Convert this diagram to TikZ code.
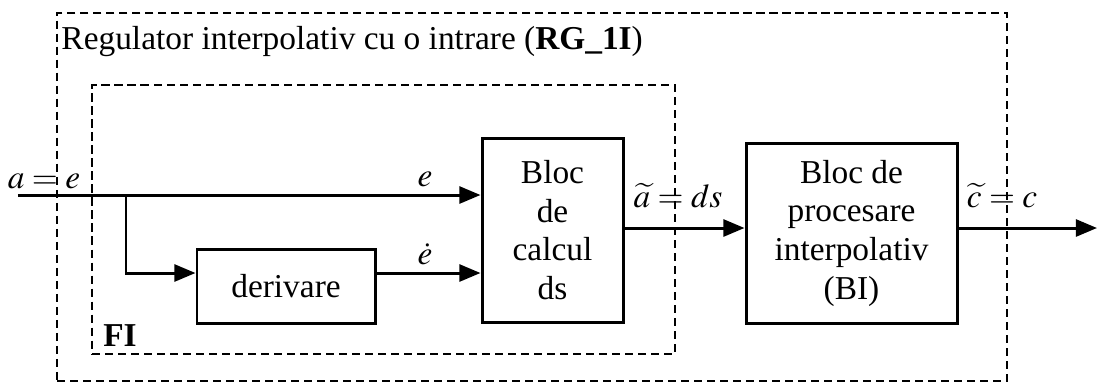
\documentclass[tikz,border=0pt]{standalone}
\usepackage{mathptmx}
\usepackage{fontspec}
\setmainfont{Liberation Serif}
\usetikzlibrary{calc}
\usetikzlibrary{fit}
\usetikzlibrary{positioning}
\usetikzlibrary{arrows.meta}

\begin{document}
\begin{tikzpicture}[->,>={Triangle[length=6pt,width=4.8pt]},line width=0.85pt,
	  font=\fontsize{9.5}{11}\selectfont,
	  block/.style={draw,rectangle,align=center,inner sep=0pt},
	  group/.style={draw,line width=0.7pt,dash pattern=on 2.3pt off 1.4pt,inner sep=0pt},
	  signal/.style={anchor=south,inner sep=0pt}]
	  \useasboundingbox (0,0) rectangle (11.01,3.86);

	  % dashed groups
	  \coordinate (o1) at (0.57,0.05);
	  \coordinate (o2) at (10.07,3.73);
	  \node[group, fit=(o1)(o2)] (rg) {};
	  \coordinate (f1) at (0.92,0.32);
	  \coordinate (f2) at (6.75,3.01);
	  \node[group, fit=(f1)(f2)] (fi) {};

	  \node[anchor=west, inner sep=0pt] (title) at (0.60,3.44) {Regulator interpolativ cu o intrare (\textbf{RG\_1I})};
	  \node[anchor=south west, inner sep=0pt, font=\fontsize{9.5}{11}\selectfont\bfseries] (fiLbl) at ($ (fi.south west) + (0.11,0.07) $) {FI};

	  % blocks
	  \node[block, minimum width=1.41cm, minimum height=1.84cm] (calc) at (5.525,1.56) {Bloc\\de\\calcul\\ds};
	  \node[block, minimum width=1.78cm, minimum height=0.74cm] (deriv) at (2.86,1.00) {derivare};
	  \node[block, minimum width=2.11cm, minimum height=1.80cm] (bi) at (8.515,1.53) {Bloc de\\procesare\\interpolativ\\(BI)};

	  \coordinate (in) at (0.18,1.91);
	  \coordinate (branch) at (1.26,1.91);
	  \coordinate (out) at (10.97,1.58);
	  \coordinate (dIn) at ($ (deriv.west) + (0,0.13) $);
	  \coordinate (dOut) at ($ (deriv.east) + (0,0.13) $);

	  \draw (in) -- (calc.west |- in);
	  \draw (branch) |- (dIn);
	  \draw (dOut) -- (calc.west |- dOut);
	  \draw (calc.east |- out) -- (bi.west |- out);
	  \draw (bi.east |- out) -- (out);

	  % signal labels
	  \node[signal] (aLbl) at (0.44,1.96) {$a = e$};
	  \node[signal] (eLbl) at (4.25,1.98) {$e$};
	  \node[signal] (edLbl) at (4.25,1.20) {$\dot{e}$};
	  \node[signal] (dsLbl) at (6.78,1.77) {$\widetilde{a} = ds$};
	  \node[signal] (cLbl) at (10.02,1.77) {$\widetilde{c} = c$};
	\end{tikzpicture}
\end{document}
